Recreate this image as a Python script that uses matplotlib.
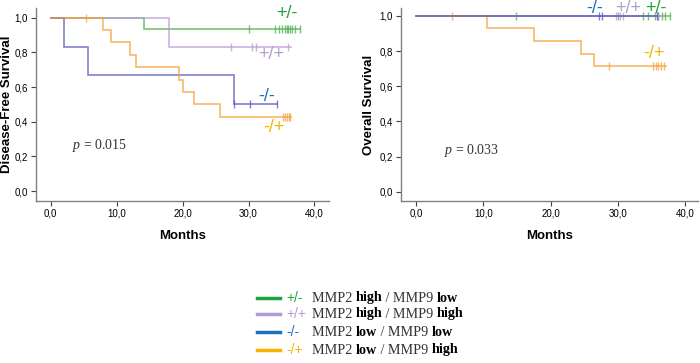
import numpy as np
import matplotlib
matplotlib.use("Agg")
import matplotlib.pyplot as plt
from matplotlib.lines import Line2D

plt.rcParams["mathtext.fontset"] = "custom"
plt.rcParams["mathtext.it"] = "Liberation Serif:italic"
plt.rcParams["mathtext.rm"] = "Liberation Serif"

# ---------------- data ----------------
# Disease-free survival: event times / survival after each step
dfs_green_t = [0, 14.2]
dfs_green_s = [1.0, 0.9375]
dfs_green_c = [30.1, 34.0, 34.6, 35.0, 35.5, 35.8, 36.0, 36.3, 36.6, 37.0, 37.8]

dfs_purple_t = [0, 17.9]
dfs_purple_s = [1.0, 0.833]
dfs_purple_c = [27.3, 30.5, 31.1, 36.0]
dfs_purple_end = 36.5

dfs_blue_t = [0, 2.0, 5.6, 27.8]
dfs_blue_s = [1.0, 0.833, 0.667, 0.5]
dfs_blue_c = [27.8, 30.2, 34.3]

dfs_orange_t = [0, 7.9, 9.2, 12.0, 13.0, 19.4, 20.0, 21.8, 25.6]
dfs_orange_s = [1.0, 0.929, 0.857, 0.786, 0.714, 0.643, 0.571, 0.5, 0.429]
dfs_orange_c = [5.4, 35.2, 35.5, 35.8, 36.1, 36.3]
dfs_orange_end = 36.5

# Overall survival
os_green_t = [0]
os_green_s = [1.0]
os_green_c = [14.8, 30.1, 33.8, 34.5, 35.5, 36.0, 36.5, 37.0, 37.8]

os_purple_t = [0]
os_purple_s = [1.0]
os_purple_c = [29.8, 30.3, 30.8, 36.0]
os_purple_end = 36.5

os_blue_t = [0]
os_blue_s = [1.0]
os_blue_c = [27.2, 27.7, 35.8]

os_orange_t = [0, 10.6, 17.6, 24.6, 26.5]
os_orange_s = [1.0, 0.929, 0.857, 0.786, 0.714]
os_orange_c = [5.4, 28.7, 35.2, 35.6, 36.0, 36.4, 36.8]
os_orange_end = 37.2

x_ticks = [0, 10, 20, 30, 40]
x_ticklabels = ["0,0", "10,0", "20,0", "30,0", "40,0"]
y_ticks = [0, 0.2, 0.4, 0.6, 0.8, 1.0]
y_ticklabels = ["0,0", "0,2", "0,4", "0,6", "0,8", "1,0"]

# line colours (curves) and label colours
C_GREEN, C_PURPLE, C_BLUE, C_ORANGE = "#4daf4a", "#b99ad6", "#5656bd", "#f7a135"
L_GREEN, L_PURPLE, L_BLUE, L_ORANGE = "#1fa33a", "#b39bd3", "#1f6fc0", "#f7b500"

SANS = ["Liberation Sans", "DejaVu Sans"]
SERIF = ["Liberation Serif", "DejaVu Serif"]


def km(ax, t, s, cens, color, end=None, alpha=0.75):
    t = list(t); s = list(s)
    last = max([end or 0] + list(cens) + t)
    ax.step(t + [last], s + [s[-1]], where="post", color=color, lw=1.2,
            alpha=alpha, solid_joinstyle="miter")
    tt = np.asarray(t)
    cy = [s[np.searchsorted(tt, c, side="right") - 1] for c in cens]
    ax.plot(cens, cy, ls="none", marker="|", ms=5.5, mew=1.0, color=color,
            alpha=alpha)


def style(ax, ylabel, xlim, ylim, ylab_x):
    ax.set_xlim(*xlim)
    ax.set_ylim(*ylim)
    ax.spines["top"].set_visible(False)
    ax.spines["right"].set_visible(False)
    for sp in ("left", "bottom"):
        ax.spines[sp].set_color("#808080")
        ax.spines[sp].set_linewidth(1.0)
    ax.set_xticks(x_ticks)
    ax.set_xticklabels(x_ticklabels, fontsize=7, family=SANS)
    ax.set_yticks(y_ticks)
    ax.set_yticklabels(y_ticklabels, fontsize=7, family=SANS)
    ax.tick_params(direction="out", length=3.5, width=0.8, color="#404040",
                   pad=2)
    ax.set_xlabel("Months", fontsize=9.5, fontweight="bold", family=SANS,
                  labelpad=8)
    ax.set_ylabel(ylabel, fontsize=9.5, fontweight="bold", family=SANS)
    ax.yaxis.set_label_coords(ylab_x, 0.5)


fig = plt.figure(figsize=(7.0, 3.63), dpi=100)
ax1 = fig.add_axes([0.051, 0.446, 0.419, 0.532])
ax2 = fig.add_axes([0.5724, 0.446, 0.4246, 0.532])

# left: disease-free survival
km(ax1, dfs_green_t, dfs_green_s, dfs_green_c, C_GREEN)
km(ax1, dfs_purple_t, dfs_purple_s, dfs_purple_c, C_PURPLE, end=dfs_purple_end)
km(ax1, dfs_blue_t, dfs_blue_s, dfs_blue_c, C_BLUE)
km(ax1, dfs_orange_t, dfs_orange_s, dfs_orange_c, C_ORANGE, end=dfs_orange_end)
style(ax1, "Disease-Free Survival", (-2.27, 42.2), (-0.058, 1.056), -0.078)
ax1.text(3.2, 0.26, r"$p$ = 0.015", fontsize=10, family=SERIF, va="center",
         color="#333333")
lab_kw = dict(fontsize=13, family=SANS, ha="center", va="center")
ax1.text(35.8, 1.027, "+/-", color=L_GREEN, **lab_kw)
ax1.text(33.4, 0.79, "+/+", color=L_PURPLE, **lab_kw)
ax1.text(32.8, 0.548, "-/-", color=L_BLUE, **lab_kw)
ax1.text(33.9, 0.364, "-/+", color=L_ORANGE, **lab_kw)

# right: overall survival
km(ax2, os_green_t, os_green_s, os_green_c, C_GREEN)
km(ax2, os_purple_t, os_purple_s, os_purple_c, C_PURPLE, end=os_purple_end)
km(ax2, os_orange_t, os_orange_s, os_orange_c, C_ORANGE, end=os_orange_end)
km(ax2, os_blue_t, os_blue_s, os_blue_c, C_BLUE)
style(ax2, "Overall Survival", (-2.27, 41.9), (-0.053, 1.0455), -0.087)
ax2.text(4.2, 0.237, r"$p$ = 0.033", fontsize=10, family=SERIF, va="center",
         color="#333333")
ax2.text(26.6, 1.043, "-/-", color=L_BLUE, **lab_kw)
ax2.text(31.6, 1.043, "+/+", color=L_PURPLE, **lab_kw)
ax2.text(35.7, 1.043, "+/-", color=L_GREEN, **lab_kw)
ax2.text(35.4, 0.788, "-/+", color=L_ORANGE, **lab_kw)

# legend built by hand (mixed bold / regular text)
legend_rows = [
    ("+/-", L_GREEN, "high", "low"),
    ("+/+", L_PURPLE, "high", "high"),
    ("-/-", L_BLUE, "low", "low"),
    ("-/+", L_ORANGE, "low", "high"),
]
W, H = 700.0, 363.0
row_y = [298, 314, 332, 350]
fig.canvas.draw()
renderer = fig.canvas.get_renderer()
for (tag, col, a, b), py in zip(legend_rows, row_y):
    fy = 1 - py / H
    fig.add_artist(Line2D([256.7 / W, 280 / W], [fy, fy], color=col, lw=2.5,
                          transform=fig.transFigure))
    fig.text(286.7 / W, fy, tag, color=col, fontsize=10, family=SANS,
             va="center")
    x = 311.7
    for txt, bold in (("MMP2 ", False), (a, True), (" / MMP9 ", False), (b, True)):
        t = fig.text(x / W, fy, txt, fontsize=10.2, family=SERIF, va="center",
                     color="black" if bold else "#333333",
                     fontweight="bold" if bold else "normal")
        x += t.get_window_extent(renderer).width

fig.savefig("out.png", dpi=100)
